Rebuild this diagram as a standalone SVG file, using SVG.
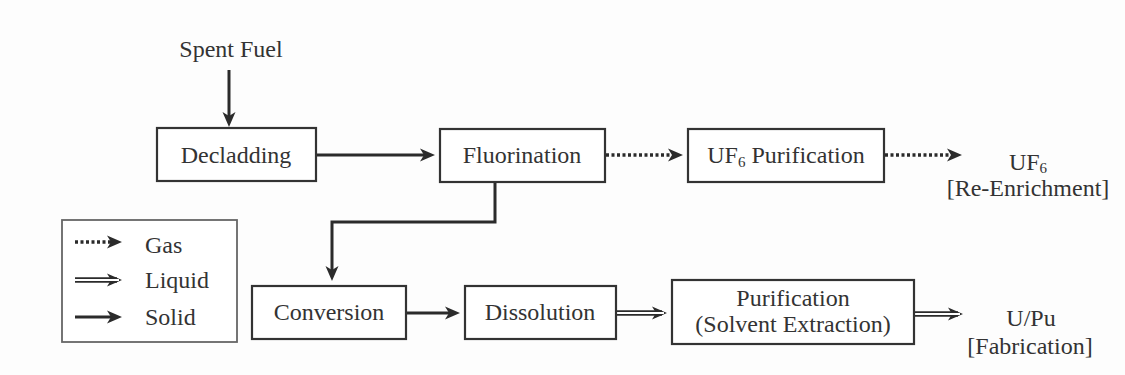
<svg xmlns="http://www.w3.org/2000/svg" width="1125" height="375" viewBox="0 0 1125 375">
<style>
text{font-family:'Liberation Serif','Times New Roman','DejaVu Serif',serif;font-size:24px;fill:#333;}
.box{fill:#fff;stroke:#333;stroke-width:2.2;}
.solid{fill:none;stroke:#2b2b2b;stroke-width:3;marker-end:url(#ah);}
.gas{fill:none;stroke:#2b2b2b;stroke-width:3.5;stroke-dasharray:3 2.5;marker-end:url(#ah);}
.liqo{fill:none;stroke:#2b2b2b;stroke-width:5.5;marker-end:url(#ah);}
.liqi{fill:none;stroke:#fff;stroke-width:2;}
.mid{text-anchor:middle;}
.sub{font-size:15px;}
</style>
<defs>
<marker id="ah" markerUnits="userSpaceOnUse" markerWidth="15" markerHeight="15" viewBox="0 0 15 15" refX="10" refY="7.5" orient="auto">
<path d="M0,1 L15,7.5 L0,14 L4,7.5 z" fill="#2b2b2b"/>
</marker>
</defs>
<rect width="1125" height="375" fill="#fdfdfd"/>
<g id="connectors">
<path class="solid" d="M229,70 V122"/>
<path class="solid" d="M316,155 H430"/>
<path class="gas" d="M606,155 H678"/>
<path class="gas" d="M885,155 H957"/>
<path class="solid" d="M495,182 V222 H332 V276"/>
<path class="solid" d="M406,313 H455"/>
<path class="liqo" d="M617,313 H662"/>
<path class="liqi" d="M617,313 H664"/>
<path class="liqo" d="M915,314 H958"/>
<path class="liqi" d="M915,314 H960"/>
</g>
<g id="spent-fuel"><text class="mid" x="231" y="57">Spent Fuel</text></g>
<g id="decladding"><rect class="box" x="157" y="128" width="159" height="53"/><text class="mid" x="236" y="163">Decladding</text></g>
<g id="fluorination"><rect class="box" x="440" y="129" width="165" height="53"/><text class="mid" x="522" y="163">Fluorination</text></g>
<g id="uf6-purification"><rect class="box" x="688" y="129" width="196" height="53"/><text class="mid" x="786" y="163">UF<tspan class="sub" dy="4">6</tspan><tspan dy="-4"> Purification</tspan></text></g>
<g id="uf6-out"><text class="mid" x="1028" y="170">UF<tspan class="sub" dy="3">6</tspan></text><text class="mid" x="1028" y="196">[Re-Enrichment]</text></g>
<g id="conversion"><rect class="box" x="252" y="286" width="154" height="53"/><text class="mid" x="329" y="320">Conversion</text></g>
<g id="dissolution"><rect class="box" x="465" y="286" width="151" height="53"/><text class="mid" x="540" y="320">Dissolution</text></g>
<g id="purification"><rect class="box" x="672" y="280" width="242" height="64"/><text class="mid" x="793" y="306">Purification</text><text class="mid" x="793" y="332">(Solvent Extraction)</text></g>
<g id="upu-out"><text class="mid" x="1031" y="326">U/Pu</text><text class="mid" x="1030" y="354">[Fabrication]</text></g>
<g id="legend">
<rect x="62" y="220" width="175" height="122" fill="#fff" stroke="#666" stroke-width="1.8"/>
<path class="gas" d="M75,242 H117"/>
<path class="liqo" d="M75,280 H117"/>
<path class="liqi" d="M75,280 H119"/>
<path class="solid" d="M75,317 H117"/>
<text x="145" y="253">Gas</text>
<text x="145" y="288">Liquid</text>
<text x="145" y="325">Solid</text>
</g>
</svg>
